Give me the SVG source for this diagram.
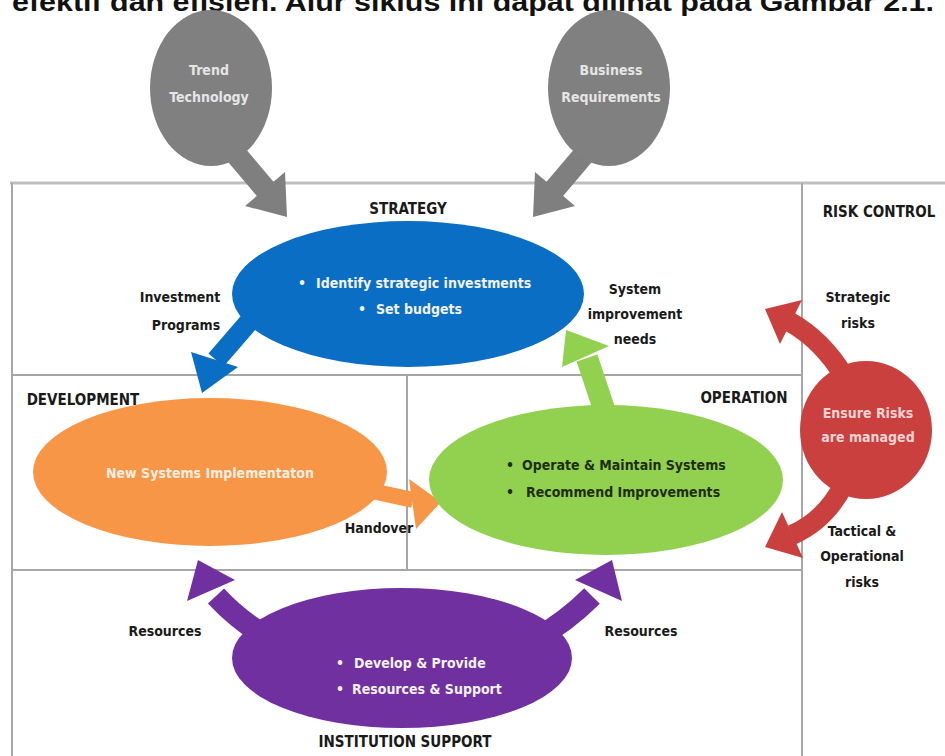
<svg xmlns="http://www.w3.org/2000/svg" width="945" height="756" viewBox="0 0 945 756">
<style>
.t{font-family:"Liberation Sans Narrow","DejaVu Sans Condensed","Liberation Sans",sans-serif;font-weight:bold;font-size:14px;fill:#1a1a1a;text-anchor:middle}
.s{text-anchor:start}
.h{font-size:15px}
.w{fill:#f2f2f2}
.g{fill:#e6e6e6}
.o{fill:#fdeee2}
.r{fill:#f6d4d3}
.d{fill:#1f2d0f}
.frame{stroke:#a6a6a6;stroke-width:2;fill:none}
.shaft{fill:none;stroke-linecap:butt}
</style>
<rect width="945" height="756" fill="#ffffff"/>
<text x="12" y="11" font-family="Liberation Sans,sans-serif" font-weight="bold" font-size="26" fill="#111" textLength="922" lengthAdjust="spacingAndGlyphs">efektif dan efisien. Alur siklus ini dapat dilihat pada Gambar 2.1.</text>

<g id="frame">
<line x1="10" y1="183" x2="945" y2="183" stroke="#bfbfbf" stroke-width="3"/>
<line class="frame" x1="12" y1="183" x2="12" y2="756"/>
<line class="frame" x1="802" y1="183" x2="802" y2="756"/>
<line class="frame" x1="12" y1="375" x2="802" y2="375"/>
<line class="frame" x1="12" y1="570" x2="802" y2="570"/>
<line class="frame" x1="407" y1="375" x2="407" y2="570"/>
<text class="t h" x="408" y="214">STRATEGY</text>
<text class="t h" x="879" y="217">RISK CONTROL</text>
<text class="t h" x="83" y="405">DEVELOPMENT</text>
<text class="t h" x="744" y="403">OPERATION</text>
<text class="t h" x="405" y="747">INSTITUTION SUPPORT</text>
</g>

<g id="connectors">
<g id="c-trend" fill="#7f7f7f">
<line class="shaft" x1="228" y1="145" x2="267" y2="191" stroke="#7f7f7f" stroke-width="22"/>
<polygon points="287,217 245,206 285,172"/>
</g>
<g id="c-business" fill="#7f7f7f">
<line class="shaft" x1="592" y1="145" x2="553" y2="191" stroke="#7f7f7f" stroke-width="22"/>
<polygon points="533,217 575,206 535,172"/>
</g>
<g id="c-invest" fill="#0b6ec5">
<line class="shaft" x1="254" y1="316" x2="216" y2="360" stroke="#0b6ec5" stroke-width="20"/>
<polygon points="202,393 191,352 238,367"/>
</g>
<g id="c-improve" fill="#92d050">
<line class="shaft" x1="616" y1="445" x2="587" y2="358" stroke="#92d050" stroke-width="22"/>
<polygon points="566,330 562,367 609,346"/>
</g>
<g id="c-handover" fill="#f79646">
<line class="shaft" x1="372" y1="491" x2="413" y2="500" stroke="#f79646" stroke-width="16"/>
<polygon points="441,502 409,479 416,529"/>
</g>
<g id="c-res-left" fill="#7030a0">
<path class="shaft" d="M272 640 Q240 622 216 596" stroke="#7030a0" stroke-width="22"/>
<polygon points="198,560 187,601 235,580"/>
</g>
<g id="c-res-right" fill="#7030a0">
<path class="shaft" d="M534 640 Q566 622 592 596" stroke="#7030a0" stroke-width="22"/>
<polygon points="612,560 575,580 622,601"/>
</g>
<g id="c-strategic" fill="#c9403f">
<path class="shaft" d="M844 376 Q822 340 790 322" stroke="#c9403f" stroke-width="20"/>
<polygon points="765,309 802,300 780,344"/>
</g>
<g id="c-tactical" fill="#c9403f">
<path class="shaft" d="M844 484 Q826 520 792 535" stroke="#c9403f" stroke-width="20"/>
<polygon points="765,547 782,512 803,558"/>
</g>
<text class="t" x="180" y="302">Investment</text>
<text class="t" x="186" y="330">Programs</text>
<text class="t" x="635" y="294">System</text>
<text class="t" x="635" y="319">improvement</text>
<text class="t" x="635" y="344">needs</text>
<text class="t" x="379" y="533">Handover</text>
<text class="t" x="165" y="636">Resources</text>
<text class="t" x="641" y="636">Resources</text>
<text class="t" x="858" y="302">Strategic</text>
<text class="t" x="858" y="328">risks</text>
<text class="t" x="862" y="536">Tactical &amp;</text>
<text class="t" x="862" y="561">Operational</text>
<text class="t" x="862" y="587">risks</text>
</g>

<g id="trend">
<ellipse cx="211" cy="88" rx="61" ry="78" fill="#808080"/>
<text class="t g" x="209" y="75">Trend</text>
<text class="t g" x="209" y="102">Technology</text>
</g>
<g id="business">
<ellipse cx="609" cy="88" rx="61" ry="78" fill="#808080"/>
<text class="t g" x="611" y="75">Business</text>
<text class="t g" x="611" y="102">Requirements</text>
</g>
<g id="strategy">
<ellipse cx="408" cy="294" rx="176" ry="73" fill="#0b6ec5"/>
<text class="t w" x="302" y="288">•</text>
<text class="t w s" x="316" y="288">Identify strategic investments</text>
<text class="t w" x="362" y="314">•</text>
<text class="t w s" x="376" y="314">Set budgets</text>
</g>
<g id="development">
<ellipse cx="210" cy="472" rx="177" ry="74" fill="#f79646"/>
<text class="t o" x="210" y="478">New Systems Implementaton</text>
</g>
<g id="operation">
<ellipse cx="606" cy="480" rx="177" ry="75" fill="#92d050"/>
<text class="t d" x="510" y="470">•</text>
<text class="t d s" x="522" y="470">Operate &amp; Maintain Systems</text>
<text class="t d" x="510" y="497">•</text>
<text class="t d s" x="526" y="497">Recommend Improvements</text>
</g>
<g id="support">
<ellipse cx="402" cy="658" rx="170" ry="70" fill="#7030a0"/>
<text class="t w" x="340" y="668">•</text>
<text class="t w s" x="354" y="668">Develop &amp; Provide</text>
<text class="t w" x="340" y="694">•</text>
<text class="t w s" x="352" y="694">Resources &amp; Support</text>
</g>
<g id="risk">
<ellipse cx="866" cy="430" rx="66" ry="69" fill="#c9403f"/>
<text class="t r" x="868" y="418">Ensure Risks</text>
<text class="t r" x="868" y="442">are managed</text>
</g>
</svg>
